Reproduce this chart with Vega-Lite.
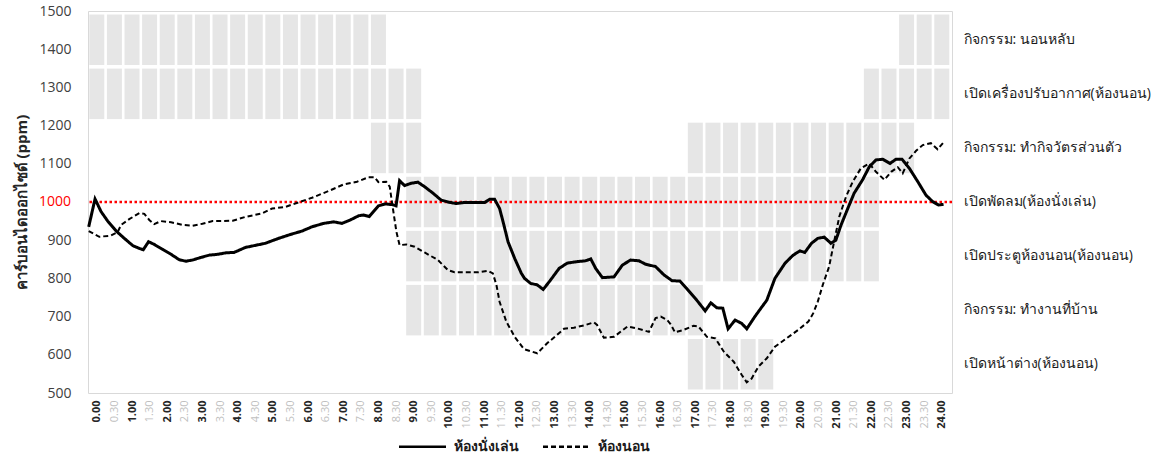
{
  "$schema": "https://vega.github.io/schema/vega-lite/v6.json",
  "width": 864,
  "height": 382,
  "autosize": {"type": "none"},
  "padding": {"left": 88, "top": 11, "right": 208, "bottom": 62},
  "background": "white",
  "config": {
    "view": {"stroke": "#d9d9d9", "strokeWidth": 1},
    "font": "Open Sans, sans-serif",
    "axis": {"grid": false, "ticks": false, "domain": false, "labelOverlap": false, "labelSeparation": 0}
  },
  "datasets": {
    "blocks": [
      {"activity": "กิจกรรม: นอนหลับ", "t": 0}, {"activity": "กิจกรรม: นอนหลับ", "t": 0.5}, {"activity": "กิจกรรม: นอนหลับ", "t": 1}, {"activity": "กิจกรรม: นอนหลับ", "t": 1.5}, {"activity": "กิจกรรม: นอนหลับ", "t": 2}, {"activity": "กิจกรรม: นอนหลับ", "t": 2.5}, {"activity": "กิจกรรม: นอนหลับ", "t": 3}, {"activity": "กิจกรรม: นอนหลับ", "t": 3.5}, {"activity": "กิจกรรม: นอนหลับ", "t": 4}, {"activity": "กิจกรรม: นอนหลับ", "t": 4.5}, {"activity": "กิจกรรม: นอนหลับ", "t": 5}, {"activity": "กิจกรรม: นอนหลับ", "t": 5.5}, {"activity": "กิจกรรม: นอนหลับ", "t": 6}, {"activity": "กิจกรรม: นอนหลับ", "t": 6.5}, {"activity": "กิจกรรม: นอนหลับ", "t": 7}, {"activity": "กิจกรรม: นอนหลับ", "t": 7.5}, {"activity": "กิจกรรม: นอนหลับ", "t": 8},
      {"activity": "กิจกรรม: นอนหลับ", "t": 23}, {"activity": "กิจกรรม: นอนหลับ", "t": 23.5}, {"activity": "กิจกรรม: นอนหลับ", "t": 24},
      {"activity": "เปิดเครื่องปรับอากาศ(ห้องนอน)", "t": 0}, {"activity": "เปิดเครื่องปรับอากาศ(ห้องนอน)", "t": 0.5}, {"activity": "เปิดเครื่องปรับอากาศ(ห้องนอน)", "t": 1}, {"activity": "เปิดเครื่องปรับอากาศ(ห้องนอน)", "t": 1.5}, {"activity": "เปิดเครื่องปรับอากาศ(ห้องนอน)", "t": 2}, {"activity": "เปิดเครื่องปรับอากาศ(ห้องนอน)", "t": 2.5}, {"activity": "เปิดเครื่องปรับอากาศ(ห้องนอน)", "t": 3}, {"activity": "เปิดเครื่องปรับอากาศ(ห้องนอน)", "t": 3.5}, {"activity": "เปิดเครื่องปรับอากาศ(ห้องนอน)", "t": 4}, {"activity": "เปิดเครื่องปรับอากาศ(ห้องนอน)", "t": 4.5}, {"activity": "เปิดเครื่องปรับอากาศ(ห้องนอน)", "t": 5}, {"activity": "เปิดเครื่องปรับอากาศ(ห้องนอน)", "t": 5.5}, {"activity": "เปิดเครื่องปรับอากาศ(ห้องนอน)", "t": 6}, {"activity": "เปิดเครื่องปรับอากาศ(ห้องนอน)", "t": 6.5}, {"activity": "เปิดเครื่องปรับอากาศ(ห้องนอน)", "t": 7}, {"activity": "เปิดเครื่องปรับอากาศ(ห้องนอน)", "t": 7.5}, {"activity": "เปิดเครื่องปรับอากาศ(ห้องนอน)", "t": 8}, {"activity": "เปิดเครื่องปรับอากาศ(ห้องนอน)", "t": 8.5}, {"activity": "เปิดเครื่องปรับอากาศ(ห้องนอน)", "t": 9},
      {"activity": "เปิดเครื่องปรับอากาศ(ห้องนอน)", "t": 22}, {"activity": "เปิดเครื่องปรับอากาศ(ห้องนอน)", "t": 22.5}, {"activity": "เปิดเครื่องปรับอากาศ(ห้องนอน)", "t": 23}, {"activity": "เปิดเครื่องปรับอากาศ(ห้องนอน)", "t": 23.5}, {"activity": "เปิดเครื่องปรับอากาศ(ห้องนอน)", "t": 24},
      {"activity": "กิจกรรม: ทำกิจวัตรส่วนตัว", "t": 8}, {"activity": "กิจกรรม: ทำกิจวัตรส่วนตัว", "t": 8.5}, {"activity": "กิจกรรม: ทำกิจวัตรส่วนตัว", "t": 9},
      {"activity": "กิจกรรม: ทำกิจวัตรส่วนตัว", "t": 17}, {"activity": "กิจกรรม: ทำกิจวัตรส่วนตัว", "t": 17.5}, {"activity": "กิจกรรม: ทำกิจวัตรส่วนตัว", "t": 18}, {"activity": "กิจกรรม: ทำกิจวัตรส่วนตัว", "t": 18.5}, {"activity": "กิจกรรม: ทำกิจวัตรส่วนตัว", "t": 19}, {"activity": "กิจกรรม: ทำกิจวัตรส่วนตัว", "t": 19.5}, {"activity": "กิจกรรม: ทำกิจวัตรส่วนตัว", "t": 20}, {"activity": "กิจกรรม: ทำกิจวัตรส่วนตัว", "t": 20.5}, {"activity": "กิจกรรม: ทำกิจวัตรส่วนตัว", "t": 21}, {"activity": "กิจกรรม: ทำกิจวัตรส่วนตัว", "t": 21.5}, {"activity": "กิจกรรม: ทำกิจวัตรส่วนตัว", "t": 22}, {"activity": "กิจกรรม: ทำกิจวัตรส่วนตัว", "t": 22.5}, {"activity": "กิจกรรม: ทำกิจวัตรส่วนตัว", "t": 23},
      {"activity": "เปิดพัดลม(ห้องนั่งเล่น)", "t": 9}, {"activity": "เปิดพัดลม(ห้องนั่งเล่น)", "t": 9.5}, {"activity": "เปิดพัดลม(ห้องนั่งเล่น)", "t": 10}, {"activity": "เปิดพัดลม(ห้องนั่งเล่น)", "t": 10.5}, {"activity": "เปิดพัดลม(ห้องนั่งเล่น)", "t": 11}, {"activity": "เปิดพัดลม(ห้องนั่งเล่น)", "t": 11.5}, {"activity": "เปิดพัดลม(ห้องนั่งเล่น)", "t": 12}, {"activity": "เปิดพัดลม(ห้องนั่งเล่น)", "t": 12.5}, {"activity": "เปิดพัดลม(ห้องนั่งเล่น)", "t": 13}, {"activity": "เปิดพัดลม(ห้องนั่งเล่น)", "t": 13.5}, {"activity": "เปิดพัดลม(ห้องนั่งเล่น)", "t": 14}, {"activity": "เปิดพัดลม(ห้องนั่งเล่น)", "t": 14.5}, {"activity": "เปิดพัดลม(ห้องนั่งเล่น)", "t": 15}, {"activity": "เปิดพัดลม(ห้องนั่งเล่น)", "t": 15.5}, {"activity": "เปิดพัดลม(ห้องนั่งเล่น)", "t": 16}, {"activity": "เปิดพัดลม(ห้องนั่งเล่น)", "t": 16.5}, {"activity": "เปิดพัดลม(ห้องนั่งเล่น)", "t": 17}, {"activity": "เปิดพัดลม(ห้องนั่งเล่น)", "t": 17.5}, {"activity": "เปิดพัดลม(ห้องนั่งเล่น)", "t": 18}, {"activity": "เปิดพัดลม(ห้องนั่งเล่น)", "t": 18.5}, {"activity": "เปิดพัดลม(ห้องนั่งเล่น)", "t": 19}, {"activity": "เปิดพัดลม(ห้องนั่งเล่น)", "t": 19.5}, {"activity": "เปิดพัดลม(ห้องนั่งเล่น)", "t": 20}, {"activity": "เปิดพัดลม(ห้องนั่งเล่น)", "t": 20.5}, {"activity": "เปิดพัดลม(ห้องนั่งเล่น)", "t": 21}, {"activity": "เปิดพัดลม(ห้องนั่งเล่น)", "t": 21.5}, {"activity": "เปิดพัดลม(ห้องนั่งเล่น)", "t": 22},
      {"activity": "เปิดประตูห้องนอน(ห้องนอน)", "t": 9}, {"activity": "เปิดประตูห้องนอน(ห้องนอน)", "t": 9.5}, {"activity": "เปิดประตูห้องนอน(ห้องนอน)", "t": 10}, {"activity": "เปิดประตูห้องนอน(ห้องนอน)", "t": 10.5}, {"activity": "เปิดประตูห้องนอน(ห้องนอน)", "t": 11}, {"activity": "เปิดประตูห้องนอน(ห้องนอน)", "t": 11.5}, {"activity": "เปิดประตูห้องนอน(ห้องนอน)", "t": 12}, {"activity": "เปิดประตูห้องนอน(ห้องนอน)", "t": 12.5}, {"activity": "เปิดประตูห้องนอน(ห้องนอน)", "t": 13}, {"activity": "เปิดประตูห้องนอน(ห้องนอน)", "t": 13.5}, {"activity": "เปิดประตูห้องนอน(ห้องนอน)", "t": 14}, {"activity": "เปิดประตูห้องนอน(ห้องนอน)", "t": 14.5}, {"activity": "เปิดประตูห้องนอน(ห้องนอน)", "t": 15}, {"activity": "เปิดประตูห้องนอน(ห้องนอน)", "t": 15.5}, {"activity": "เปิดประตูห้องนอน(ห้องนอน)", "t": 16}, {"activity": "เปิดประตูห้องนอน(ห้องนอน)", "t": 16.5}, {"activity": "เปิดประตูห้องนอน(ห้องนอน)", "t": 17}, {"activity": "เปิดประตูห้องนอน(ห้องนอน)", "t": 17.5}, {"activity": "เปิดประตูห้องนอน(ห้องนอน)", "t": 18}, {"activity": "เปิดประตูห้องนอน(ห้องนอน)", "t": 18.5}, {"activity": "เปิดประตูห้องนอน(ห้องนอน)", "t": 19}, {"activity": "เปิดประตูห้องนอน(ห้องนอน)", "t": 19.5}, {"activity": "เปิดประตูห้องนอน(ห้องนอน)", "t": 20}, {"activity": "เปิดประตูห้องนอน(ห้องนอน)", "t": 20.5}, {"activity": "เปิดประตูห้องนอน(ห้องนอน)", "t": 21}, {"activity": "เปิดประตูห้องนอน(ห้องนอน)", "t": 21.5}, {"activity": "เปิดประตูห้องนอน(ห้องนอน)", "t": 22},
      {"activity": "กิจกรรม: ทำงานที่บ้าน", "t": 9}, {"activity": "กิจกรรม: ทำงานที่บ้าน", "t": 9.5}, {"activity": "กิจกรรม: ทำงานที่บ้าน", "t": 10}, {"activity": "กิจกรรม: ทำงานที่บ้าน", "t": 10.5}, {"activity": "กิจกรรม: ทำงานที่บ้าน", "t": 11}, {"activity": "กิจกรรม: ทำงานที่บ้าน", "t": 11.5}, {"activity": "กิจกรรม: ทำงานที่บ้าน", "t": 12}, {"activity": "กิจกรรม: ทำงานที่บ้าน", "t": 12.5}, {"activity": "กิจกรรม: ทำงานที่บ้าน", "t": 13}, {"activity": "กิจกรรม: ทำงานที่บ้าน", "t": 13.5}, {"activity": "กิจกรรม: ทำงานที่บ้าน", "t": 14}, {"activity": "กิจกรรม: ทำงานที่บ้าน", "t": 14.5}, {"activity": "กิจกรรม: ทำงานที่บ้าน", "t": 15}, {"activity": "กิจกรรม: ทำงานที่บ้าน", "t": 15.5}, {"activity": "กิจกรรม: ทำงานที่บ้าน", "t": 16}, {"activity": "กิจกรรม: ทำงานที่บ้าน", "t": 16.5}, {"activity": "กิจกรรม: ทำงานที่บ้าน", "t": 17},
      {"activity": "เปิดหน้าต่าง(ห้องนอน)", "t": 17}, {"activity": "เปิดหน้าต่าง(ห้องนอน)", "t": 17.5}, {"activity": "เปิดหน้าต่าง(ห้องนอน)", "t": 18}, {"activity": "เปิดหน้าต่าง(ห้องนอน)", "t": 18.5}, {"activity": "เปิดหน้าต่าง(ห้องนอน)", "t": 19}
    ],
    "co2": [
      {"room": "ห้องนั่งเล่น", "t": -0.23, "ppm": 935}, {"room": "ห้องนั่งเล่น", "t": -0.05, "ppm": 1008}, {"room": "ห้องนั่งเล่น", "t": 0.12, "ppm": 975}, {"room": "ห้องนั่งเล่น", "t": 0.31, "ppm": 950}, {"room": "ห้องนั่งเล่น", "t": 0.55, "ppm": 924}, {"room": "ห้องนั่งเล่น", "t": 0.78, "ppm": 905}, {"room": "ห้องนั่งเล่น", "t": 1.02, "ppm": 886}, {"room": "ห้องนั่งเล่น", "t": 1.19, "ppm": 879}, {"room": "ห้องนั่งเล่น", "t": 1.32, "ppm": 875}, {"room": "ห้องนั่งเล่น", "t": 1.47, "ppm": 896}, {"room": "ห้องนั่งเล่น", "t": 1.63, "ppm": 889}, {"room": "ห้องนั่งเล่น", "t": 1.87, "ppm": 876}, {"room": "ห้องนั่งเล่น", "t": 2.11, "ppm": 863}, {"room": "ห้องนั่งเล่น", "t": 2.34, "ppm": 849}, {"room": "ห้องนั่งเล่น", "t": 2.53, "ppm": 845}, {"room": "ห้องนั่งเล่น", "t": 2.72, "ppm": 848}, {"room": "ห้องนั่งเล่น", "t": 2.96, "ppm": 855}, {"room": "ห้องนั่งเล่น", "t": 3.2, "ppm": 861}, {"room": "ห้องนั่งเล่น", "t": 3.43, "ppm": 863}, {"room": "ห้องนั่งเล่น", "t": 3.67, "ppm": 867}, {"room": "ห้องนั่งเล่น", "t": 3.9, "ppm": 868}, {"room": "ห้องนั่งเล่น", "t": 4.22, "ppm": 881}, {"room": "ห้องนั่งเล่น", "t": 4.79, "ppm": 892}, {"room": "ห้องนั่งเล่น", "t": 5.17, "ppm": 905}, {"room": "ห้องนั่งเล่น", "t": 5.5, "ppm": 915}, {"room": "ห้องนั่งเล่น", "t": 5.83, "ppm": 924}, {"room": "ห้องนั่งเล่น", "t": 6.11, "ppm": 935}, {"room": "ห้องนั่งเล่น", "t": 6.44, "ppm": 944}, {"room": "ห้องนั่งเล่น", "t": 6.73, "ppm": 948}, {"room": "ห้องนั่งเล่น", "t": 6.96, "ppm": 944}, {"room": "ห้องนั่งเล่น", "t": 7.2, "ppm": 953}, {"room": "ห้องนั่งเล่น", "t": 7.44, "ppm": 964}, {"room": "ห้องนั่งเล่น", "t": 7.58, "ppm": 966}, {"room": "ห้องนั่งเล่น", "t": 7.74, "ppm": 962}, {"room": "ห้องนั่งเล่น", "t": 7.86, "ppm": 975}, {"room": "ห้องนั่งเล่น", "t": 8.0, "ppm": 990}, {"room": "ห้องนั่งเล่น", "t": 8.2, "ppm": 995}, {"room": "ห้องนั่งเล่น", "t": 8.4, "ppm": 993}, {"room": "ห้องนั่งเล่น", "t": 8.5, "ppm": 990}, {"room": "ห้องนั่งเล่น", "t": 8.6, "ppm": 1056}, {"room": "ห้องนั่งเล่น", "t": 8.74, "ppm": 1043}, {"room": "ห้องนั่งเล่น", "t": 8.93, "ppm": 1049}, {"room": "ห้องนั่งเล่น", "t": 9.12, "ppm": 1052}, {"room": "ห้องนั่งเล่น", "t": 9.31, "ppm": 1040}, {"room": "ห้องนั่งเล่น", "t": 9.55, "ppm": 1023}, {"room": "ห้องนั่งเล่น", "t": 9.78, "ppm": 1005}, {"room": "ห้องนั่งเล่น", "t": 10.02, "ppm": 999}, {"room": "ห้องนั่งเล่น", "t": 10.21, "ppm": 996}, {"room": "ห้องนั่งเล่น", "t": 10.45, "ppm": 999}, {"room": "ห้องนั่งเล่น", "t": 10.73, "ppm": 999}, {"room": "ห้องนั่งเล่น", "t": 11.02, "ppm": 999}, {"room": "ห้องนั่งเล่น", "t": 11.16, "ppm": 1007}, {"room": "ห้องนั่งเล่น", "t": 11.3, "ppm": 1007}, {"room": "ห้องนั่งเล่น", "t": 11.44, "ppm": 983}, {"room": "ห้องนั่งเล่น", "t": 11.54, "ppm": 948}, {"room": "ห้องนั่งเล่น", "t": 11.68, "ppm": 896}, {"room": "ห้องนั่งเล่น", "t": 11.87, "ppm": 852}, {"room": "ห้องนั่งเล่น", "t": 12.06, "ppm": 813}, {"room": "ห้องนั่งเล่น", "t": 12.15, "ppm": 800}, {"room": "ห้องนั่งเล่น", "t": 12.32, "ppm": 787}, {"room": "ห้องนั่งเล่น", "t": 12.51, "ppm": 783}, {"room": "ห้องนั่งเล่น", "t": 12.68, "ppm": 771}, {"room": "ห้องนั่งเล่น", "t": 12.89, "ppm": 796}, {"room": "ห้องนั่งเล่น", "t": 13.13, "ppm": 826}, {"room": "ห้องนั่งเล่น", "t": 13.36, "ppm": 840}, {"room": "ห้องนั่งเล่น", "t": 13.65, "ppm": 844}, {"room": "ห้องนั่งเล่น", "t": 13.88, "ppm": 846}, {"room": "ห้องนั่งเล่น", "t": 14.03, "ppm": 851}, {"room": "ห้องนั่งเล่น", "t": 14.17, "ppm": 826}, {"room": "ห้องนั่งเล่น", "t": 14.36, "ppm": 802}, {"room": "ห้องนั่งเล่น", "t": 14.69, "ppm": 804}, {"room": "ห้องนั่งเล่น", "t": 14.93, "ppm": 835}, {"room": "ห้องนั่งเล่น", "t": 15.16, "ppm": 848}, {"room": "ห้องนั่งเล่น", "t": 15.4, "ppm": 846}, {"room": "ห้องนั่งเล่น", "t": 15.59, "ppm": 837}, {"room": "ห้องนั่งเล่น", "t": 15.87, "ppm": 831}, {"room": "ห้องนั่งเล่น", "t": 16.11, "ppm": 809}, {"room": "ห้องนั่งเล่น", "t": 16.34, "ppm": 794}, {"room": "ห้องนั่งเล่น", "t": 16.56, "ppm": 793}, {"room": "ห้องนั่งเล่น", "t": 16.75, "ppm": 774}, {"room": "ห้องนั่งเล่น", "t": 17.04, "ppm": 743}, {"room": "ห้องนั่งเล่น", "t": 17.28, "ppm": 715}, {"room": "ห้องนั่งเล่น", "t": 17.44, "ppm": 736}, {"room": "ห้องนั่งเล่น", "t": 17.61, "ppm": 723}, {"room": "ห้องนั่งเล่น", "t": 17.78, "ppm": 722}, {"room": "ห้องนั่งเล่น", "t": 17.93, "ppm": 668}, {"room": "ห้องนั่งเล่น", "t": 18.13, "ppm": 691}, {"room": "ห้องนั่งเล่น", "t": 18.32, "ppm": 682}, {"room": "ห้องนั่งเล่น", "t": 18.46, "ppm": 668}, {"room": "ห้องนั่งเล่น", "t": 18.69, "ppm": 700}, {"room": "ห้องนั่งเล่น", "t": 19.03, "ppm": 743}, {"room": "ห้องนั่งเล่น", "t": 19.26, "ppm": 800}, {"room": "ห้องนั่งเล่น", "t": 19.55, "ppm": 840}, {"room": "ห้องนั่งเล่น", "t": 19.78, "ppm": 861}, {"room": "ห้องนั่งเล่น", "t": 19.97, "ppm": 872}, {"room": "ห้องนั่งเล่น", "t": 20.11, "ppm": 868}, {"room": "ห้องนั่งเล่น", "t": 20.3, "ppm": 892}, {"room": "ห้องนั่งเล่น", "t": 20.48, "ppm": 905}, {"room": "ห้องนั่งเล่น", "t": 20.66, "ppm": 908}, {"room": "ห้องนั่งเล่น", "t": 20.85, "ppm": 892}, {"room": "ห้องนั่งเล่น", "t": 20.99, "ppm": 900}, {"room": "ห้องนั่งเล่น", "t": 21.14, "ppm": 940}, {"room": "ห้องนั่งเล่น", "t": 21.33, "ppm": 983}, {"room": "ห้องนั่งเล่น", "t": 21.51, "ppm": 1023}, {"room": "ห้องนั่งเล่น", "t": 21.75, "ppm": 1058}, {"room": "ห้องนั่งเล่น", "t": 21.94, "ppm": 1092}, {"room": "ห้องนั่งเล่น", "t": 22.13, "ppm": 1110}, {"room": "ห้องนั่งเล่น", "t": 22.32, "ppm": 1112}, {"room": "ห้องนั่งเล่น", "t": 22.53, "ppm": 1101}, {"room": "ห้องนั่งเล่น", "t": 22.7, "ppm": 1112}, {"room": "ห้องนั่งเล่น", "t": 22.87, "ppm": 1112}, {"room": "ห้องนั่งเล่น", "t": 23.08, "ppm": 1088}, {"room": "ห้องนั่งเล่น", "t": 23.32, "ppm": 1053}, {"room": "ห้องนั่งเล่น", "t": 23.55, "ppm": 1018}, {"room": "ห้องนั่งเล่น", "t": 23.74, "ppm": 1001}, {"room": "ห้องนั่งเล่น", "t": 23.91, "ppm": 992}, {"room": "ห้องนั่งเล่น", "t": 24.05, "ppm": 994},
      {"room": "ห้องนอน", "t": -0.23, "ppm": 924}, {"room": "ห้องนอน", "t": 0.07, "ppm": 909}, {"room": "ห้องนอน", "t": 0.4, "ppm": 912}, {"room": "ห้องนอน", "t": 0.59, "ppm": 921}, {"room": "ห้องนอน", "t": 0.69, "ppm": 940}, {"room": "ห้องนอน", "t": 0.92, "ppm": 955}, {"room": "ห้องนอน", "t": 1.21, "ppm": 971}, {"room": "ห้องนอน", "t": 1.35, "ppm": 969}, {"room": "ห้องนอน", "t": 1.49, "ppm": 953}, {"room": "ห้องนอน", "t": 1.63, "ppm": 942}, {"room": "ห้องนอน", "t": 1.82, "ppm": 950}, {"room": "ห้องนอน", "t": 2.11, "ppm": 947}, {"room": "ห้องนอน", "t": 2.44, "ppm": 940}, {"room": "ห้องนอน", "t": 2.72, "ppm": 938}, {"room": "ห้องนอน", "t": 3.0, "ppm": 943}, {"room": "ห้องนอน", "t": 3.29, "ppm": 950}, {"room": "ห้องนอน", "t": 3.58, "ppm": 950}, {"room": "ห้องนอน", "t": 3.86, "ppm": 951}, {"room": "ห้องนอน", "t": 4.22, "ppm": 961}, {"room": "ห้องนอน", "t": 4.69, "ppm": 970}, {"room": "ห้องนอน", "t": 4.98, "ppm": 983}, {"room": "ห้องนอน", "t": 5.35, "ppm": 987}, {"room": "ห้องนอน", "t": 5.73, "ppm": 999}, {"room": "ห้องนอน", "t": 6.11, "ppm": 1011}, {"room": "ห้องนอน", "t": 6.59, "ppm": 1029}, {"room": "ห้องนอน", "t": 7.01, "ppm": 1046}, {"room": "ห้องนอน", "t": 7.39, "ppm": 1053}, {"room": "ห้องนอน", "t": 7.72, "ppm": 1065}, {"room": "ห้องนอน", "t": 7.89, "ppm": 1065}, {"room": "ห้องนอน", "t": 8.0, "ppm": 1052}, {"room": "ห้องนอน", "t": 8.22, "ppm": 1053}, {"room": "ห้องนอน", "t": 8.32, "ppm": 1040}, {"room": "ห้องนอน", "t": 8.41, "ppm": 983}, {"room": "ห้องนอน", "t": 8.51, "ppm": 922}, {"room": "ห้องนอน", "t": 8.6, "ppm": 887}, {"room": "ห้องนอน", "t": 8.79, "ppm": 889}, {"room": "ห้องนอน", "t": 9.03, "ppm": 883}, {"room": "ห้องนอน", "t": 9.31, "ppm": 868}, {"room": "ห้องนอน", "t": 9.69, "ppm": 848}, {"room": "ห้องนอน", "t": 9.97, "ppm": 822}, {"room": "ห้องนอน", "t": 10.16, "ppm": 816}, {"room": "ห้องนอน", "t": 10.45, "ppm": 816}, {"room": "ห้องนอน", "t": 10.83, "ppm": 816}, {"room": "ห้องนอน", "t": 11.11, "ppm": 820}, {"room": "ห้องนอน", "t": 11.25, "ppm": 813}, {"room": "ห้องนอน", "t": 11.35, "ppm": 783}, {"room": "ห้องนอน", "t": 11.44, "ppm": 739}, {"room": "ห้องนอน", "t": 11.63, "ppm": 687}, {"room": "ห้องนอน", "t": 11.87, "ppm": 647}, {"room": "ห้องนอน", "t": 12.13, "ppm": 615}, {"room": "ห้องนอน", "t": 12.51, "ppm": 604}, {"room": "ห้องนอน", "t": 12.79, "ppm": 630}, {"room": "ห้องนอน", "t": 13.27, "ppm": 668}, {"room": "ห้องนอน", "t": 13.55, "ppm": 671}, {"room": "ห้องนอน", "t": 13.88, "ppm": 678}, {"room": "ห้องนอน", "t": 14.12, "ppm": 685}, {"room": "ห้องนอน", "t": 14.21, "ppm": 678}, {"room": "ห้องนอน", "t": 14.4, "ppm": 645}, {"room": "ห้องนอน", "t": 14.69, "ppm": 647}, {"room": "ห้องนอน", "t": 15.07, "ppm": 674}, {"room": "ห้องนอน", "t": 15.35, "ppm": 669}, {"room": "ห้องนอน", "t": 15.68, "ppm": 660}, {"room": "ห้องนอน", "t": 15.87, "ppm": 696}, {"room": "ห้องนอน", "t": 16.02, "ppm": 700}, {"room": "ห้องนอน", "t": 16.2, "ppm": 691}, {"room": "ห้องนอน", "t": 16.3, "ppm": 680}, {"room": "ห้องนอน", "t": 16.42, "ppm": 659}, {"room": "ห้องนอน", "t": 16.66, "ppm": 665}, {"room": "ห้องนอน", "t": 16.95, "ppm": 676}, {"room": "ห้องนอน", "t": 17.09, "ppm": 674}, {"room": "ห้องนอน", "t": 17.33, "ppm": 647}, {"room": "ห้องนอน", "t": 17.57, "ppm": 643}, {"room": "ห้องนอน", "t": 17.81, "ppm": 608}, {"room": "ห้องนอน", "t": 18.09, "ppm": 582}, {"room": "ห้องนอน", "t": 18.32, "ppm": 547}, {"room": "ห้องนอน", "t": 18.46, "ppm": 528}, {"room": "ห้องนอน", "t": 18.6, "ppm": 538}, {"room": "ห้องนอน", "t": 18.79, "ppm": 569}, {"room": "ห้องนอน", "t": 19.03, "ppm": 591}, {"room": "ห้องนอน", "t": 19.26, "ppm": 621}, {"room": "ห้องนอน", "t": 19.59, "ppm": 643}, {"room": "ห้องนอน", "t": 19.92, "ppm": 665}, {"room": "ห้องนอน", "t": 20.21, "ppm": 687}, {"room": "ห้องนอน", "t": 20.35, "ppm": 709}, {"room": "ห้องนอน", "t": 20.48, "ppm": 740}, {"room": "ห้องนอน", "t": 20.62, "ppm": 783}, {"room": "ห้องนอน", "t": 20.8, "ppm": 831}, {"room": "ห้องนอน", "t": 20.95, "ppm": 900}, {"room": "ห้องนอน", "t": 21.09, "ppm": 962}, {"room": "ห้องนอน", "t": 21.28, "ppm": 1014}, {"room": "ห้องนอน", "t": 21.47, "ppm": 1053}, {"room": "ห้องนอน", "t": 21.7, "ppm": 1088}, {"room": "ห้องนอน", "t": 21.94, "ppm": 1101}, {"room": "ห้องนอน", "t": 22.13, "ppm": 1079}, {"room": "ห้องนอน", "t": 22.37, "ppm": 1058}, {"room": "ห้องนอน", "t": 22.56, "ppm": 1079}, {"room": "ห้องนอน", "t": 22.75, "ppm": 1091}, {"room": "ห้องนอน", "t": 22.89, "ppm": 1075}, {"room": "ห้องนอน", "t": 23.08, "ppm": 1114}, {"room": "ห้องนอน", "t": 23.27, "ppm": 1134}, {"room": "ห้องนอน", "t": 23.46, "ppm": 1149}, {"room": "ห้องนอน", "t": 23.69, "ppm": 1154}, {"room": "ห้องนอน", "t": 23.88, "ppm": 1138}, {"room": "ห้องนอน", "t": 24.05, "ppm": 1156}
    ],
    "threshold": [{"ppm": 1000}]
  },
  "layer": [
    {
      "data": {"name": "blocks"},
      "mark": {"type": "rect", "width": 15, "color": "#e6e6e6"},
      "encoding": {
        "x": {
          "field": "t", "type": "quantitative",
          "scale": {"domain": [-0.25, 24.29], "nice": false, "zero": false},
          "axis": {
            "title": null,
            "values": [0,0.5,1,1.5,2,2.5,3,3.5,4,4.5,5,5.5,6,6.5,7,7.5,8,8.5,9,9.5,10,10.5,11,11.5,12,12.5,13,13.5,14,14.5,15,15.5,16,16.5,17,17.5,18,18.5,19,19.5,20,20.5,21,21.5,22,22.5,23,23.5,24],
            "tickCount": 49,
            "labelExpr": "floor(datum.value) + (datum.value % 1 ? '.30' : '.00')",
            "labelAngle": 270,
            "labelFontSize": 11,
            "labelPadding": 7,
            "labelOverlap": false,
            "labelColor": {"condition": {"test": "datum.value % 1 != 0", "value": "#bfbfbf"}, "value": "#262626"},
            "labelFontWeight": {"condition": {"test": "datum.value % 1 != 0", "value": "normal"}, "value": "bold"}
          }
        },
        "y": {
          "field": "activity", "type": "nominal",
          "sort": ["กิจกรรม: นอนหลับ", "เปิดเครื่องปรับอากาศ(ห้องนอน)", "กิจกรรม: ทำกิจวัตรส่วนตัว", "เปิดพัดลม(ห้องนั่งเล่น)", "เปิดประตูห้องนอน(ห้องนอน)", "กิจกรรม: ทำงานที่บ้าน", "เปิดหน้าต่าง(ห้องนอน)"],
          "scale": {"paddingInner": 0.066, "paddingOuter": 0.065},
          "axis": {"orient": "right", "title": null, "labelPadding": 11, "labelFontSize": 14, "labelColor": "#1a1a1a", "labelLimit": 300}
        }
      }
    },
    {
      "encoding": {
        "y": {
          "field": "ppm", "type": "quantitative",
          "scale": {"domain": [500, 1500], "nice": false, "zero": false},
          "axis": {
            "title": "คาร์บอนไดออกไซด์ (ppm)",
            "titleFontSize": 15, "titleFontWeight": "bold", "titleColor": "#262626", "titlePadding": 9,
            "values": [500,600,700,800,900,1000,1100,1200,1300,1400,1500],
            "tickCount": 11,
            "format": "d",
            "labelExpr": "datum.value == 1000 ? '' : datum.label",
            "labelOverlap": false,
            "labelFontSize": 14, "labelPadding": 17,
            "labelColor": "#404040"
          }
        }
      },
      "layer": [
        {
          "data": {"name": "threshold"},
          "mark": {"type": "rule", "color": "#ff0000", "strokeWidth": 2.5, "strokeDash": [2.5, 2.5]}
        },
        {
          "data": {"name": "threshold"},
          "mark": {"type": "text", "align": "right", "baseline": "middle", "dx": -17, "fontSize": 14, "color": "#ff0000", "font": "Open Sans, sans-serif"},
          "encoding": {
            "x": {"datum": -0.25, "type": "quantitative"},
            "text": {"field": "ppm", "type": "quantitative", "format": "d"}
          }
        },
        {
          "data": {"name": "co2"},
          "transform": [{"filter": "datum.room === 'ห้องนั่งเล่น'"}],
          "mark": {"type": "line", "color": "#000000", "strokeWidth": 3},
          "encoding": {
            "x": {"field": "t", "type": "quantitative"},
            "strokeDash": {
              "field": "room", "type": "nominal",
              "scale": {"domain": ["ห้องนั่งเล่น", "ห้องนอน"], "range": [[1, 0], [5, 3]]},
              "legend": {"orient": "none", "legendX": 323, "legendY": 424, "direction": "horizontal", "title": null, "symbolType": "M-2.35,0H2.35", "symbolSize": 400, "symbolStrokeColor": "#000000", "symbolStrokeWidth": 2.5, "labelFontSize": 14, "labelFontWeight": "bold", "labelColor": "#1a1a1a", "columnPadding": 19, "labelOffset": 20}
            }
          }
        },
        {
          "data": {"name": "co2"},
          "transform": [{"filter": "datum.room === 'ห้องนอน'"}],
          "mark": {"type": "line", "color": "#000000", "strokeWidth": 2},
          "encoding": {
            "x": {"field": "t", "type": "quantitative"},
            "strokeDash": {"field": "room", "type": "nominal"}
          }
        }
      ]
    }
  ],
  "resolve": {"scale": {"y": "independent"}}
}
